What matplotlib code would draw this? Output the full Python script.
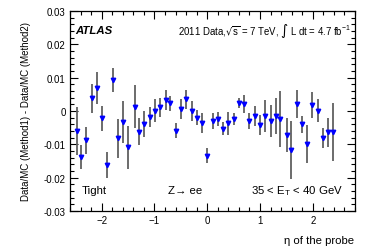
import matplotlib
matplotlib.use("Agg")
import matplotlib.pyplot as plt
from matplotlib.ticker import MultipleLocator

plt.rcParams["font.family"] = ["Liberation Sans", "DejaVu Sans"]
plt.rcParams["mathtext.fontset"] = "dejavusans"

# eta of the probe (bin positions as drawn)
eta = [-2.46, -2.39, -2.29, -2.19, -2.09, -1.99, -1.89, -1.79, -1.69, -1.59,
       -1.51, -1.36, -1.29, -1.19, -1.09, -0.99, -0.89, -0.79, -0.70, -0.60,
       -0.50, -0.40, -0.29, -0.19, -0.09, 0.00, 0.10, 0.20, 0.30, 0.40,
       0.50, 0.60, 0.70, 0.80, 0.90, 1.00, 1.10, 1.20, 1.30, 1.37,
       1.52, 1.59, 1.70, 1.79, 1.89, 1.99, 2.09, 2.19, 2.29, 2.39]

# Data/MC (Method1) - Data/MC (Method2)
diff = [-0.0059, -0.0137, -0.0088, 0.0038, 0.0070, -0.0022, -0.0161, 0.0093, -0.0082, -0.0032,
        -0.0109, 0.0013, -0.0062, -0.0039, -0.0017, 0.0001, 0.0011, 0.0034, 0.0023, -0.0059,
        0.0006, 0.0035, -0.0001, -0.0020, -0.0036, -0.0134, -0.0029, -0.0024, -0.0053, -0.0037,
        -0.0024, 0.0023, 0.0021, -0.0031, -0.0015, -0.0041, -0.0015, -0.0029, -0.0016, -0.0024,
        -0.0072, -0.0117, 0.0021, -0.0040, -0.0099, 0.0018, 0.0001, -0.0081, -0.0064, -0.0064]

err = [0.0072, 0.0036, 0.0040, 0.0043, 0.0048, 0.0037, 0.0039, 0.0035, 0.0059, 0.0063,
       0.0064, 0.0064, 0.0040, 0.0039, 0.0030, 0.0034, 0.0029, 0.0030, 0.0022, 0.0023,
       0.0029, 0.0029, 0.0030, 0.0022, 0.0029, 0.0022, 0.0024, 0.0020, 0.0020, 0.0034,
       0.0019, 0.0015, 0.0027, 0.0024, 0.0031, 0.0030, 0.0047, 0.0048, 0.0054, 0.0083,
       0.0052, 0.0086, 0.0042, 0.0026, 0.0058, 0.0039, 0.0034, 0.0029, 0.0043, 0.0087]

yticks = [-0.03, -0.02, -0.01, 0.0, 0.01, 0.02, 0.03]
ytick_labels = ["-0.03", "-0.02", "-0.01", "0", "0.01", "0.02", "0.03"]

fig = plt.figure(figsize=(3.74, 2.53), dpi=100)
ax = fig.add_axes([70 / 374, 1 - 212 / 253, 285 / 374, 200 / 253])

ax.errorbar(eta, diff, yerr=err, fmt="none", ecolor="#606060", elinewidth=1.3, capsize=0)
ax.plot(eta, diff, linestyle="none", marker="v", color="#0000ff", markersize=3.2)

ax.set_xlim(-2.6, 2.8)
ax.set_ylim(-0.03, 0.03)
ax.set_yticks(yticks)
ax.set_yticklabels(ytick_labels)
ax.xaxis.set_major_locator(MultipleLocator(1))
ax.xaxis.set_minor_locator(MultipleLocator(0.2))
ax.yaxis.set_minor_locator(MultipleLocator(0.002))
ax.tick_params(which="both", direction="in", top=True, right=True, labelsize=7, width=0.8)
ax.tick_params(which="major", length=5.8, pad=3)
ax.tick_params(which="minor", length=2.9)
for s in ax.spines.values():
    s.set_linewidth(0.9)

ax.set_ylabel("Data/MC (Method1) - Data/MC (Method2)", fontsize=7, labelpad=9)
fig.text(354 / 374, 1 - 241 / 253, "\u03b7 of the probe", fontsize=8.2, ha="right", va="center")

ax.text(0.02, 0.905, "ATLAS", transform=ax.transAxes, fontsize=8.2,
        fontweight="bold", fontstyle="italic", va="center")
ax.text(0.986, 0.905,
        r"2011 Data,$\mathregular{\sqrt{s}}$ = 7 TeV, $\int$ L dt = 4.7 fb$^{\mathregular{-1}}$",
        transform=ax.transAxes, fontsize=6.9, ha="right", va="center")
ax.text(0.042, 0.105, "Tight", transform=ax.transAxes, fontsize=8.2, va="center")
ax.text(0.344, 0.105, "Z\u2192 ee", transform=ax.transAxes, fontsize=8.2, va="center")
ax.text(0.959, 0.105, r"35 < E$_\mathregular{T}$ < 40 GeV", transform=ax.transAxes,
        fontsize=8.2, ha="right", va="center")

fig.savefig("out.png", dpi=100)
